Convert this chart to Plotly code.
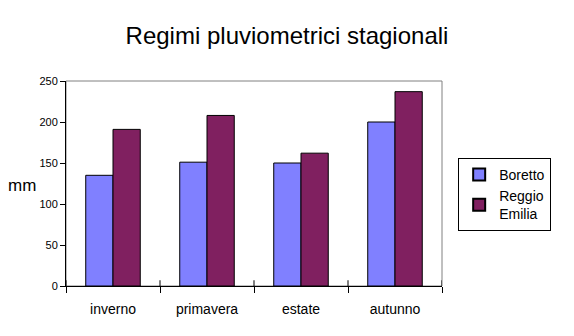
import plotly.graph_objects as go

categories = ["inverno", "primavera", "estate", "autunno"]
boretto = [135, 151, 150, 200]
reggio = [191, 208, 162, 237]
series_names = ["Boretto", "Reggio<br>Emilia"]
y_ticks = [0, 50, 100, 150, 200, 250]

fig = go.Figure()
fig.add_trace(go.Bar(x=categories, y=boretto, name=series_names[0],
                     marker=dict(color="#8080FF", line=dict(color="black", width=1))))
fig.add_trace(go.Bar(x=categories, y=reggio, name=series_names[1],
                     marker=dict(color="#802060", line=dict(color="black", width=1))))

# upward halves of the crossing category-boundary ticks
shapes = [dict(type="rect", xref="paper", yref="paper", x0=0, x1=1, y0=0, y1=1,
               line=dict(color="#808080", width=1), layer="below")]
for i in range(len(categories) + 1):
    shapes.append(dict(type="line", xref="x", yref="y", x0=i - 0.5, x1=i - 0.5,
                       y0=0, y1=7, line=dict(color="black", width=1)))

fig.update_layout(
    width=574, height=336,
    margin=dict(l=66, r=132, t=81, b=50),
    paper_bgcolor="white", plot_bgcolor="white",
    font=dict(family="Liberation Sans, Arial", color="black", size=12),
    title=dict(text="Regimi pluviometrici stagionali", x=0.5, xref="container", xanchor="center",
               y=0.895, yref="container", yanchor="middle",
               font=dict(size=24, color="black")),
    barmode="group", bargap=0.42, bargroupgap=0,
    showlegend=True,
    legend=dict(x=1.043, y=0.625, xanchor="left", yanchor="top",
                bordercolor="black", borderwidth=1, bgcolor="white",
                font=dict(size=14), itemsizing="constant", tracegroupgap=12,
                itemwidth=30, entrywidth=80),
    shapes=shapes,
)
fig.add_annotation(text="mm", xref="paper", yref="paper", x=-0.117, y=0.49,
                   xanchor="center", yanchor="middle", showarrow=False,
                   font=dict(size=17, color="black"))
fig.update_xaxes(showline=True, linecolor="black", linewidth=1, ticks="outside",
                 tickson="boundaries", ticklen=6, tickcolor="black",
                 tickfont=dict(size=14), showgrid=False, mirror=False,
                 ticklabelstandoff=10, range=[-0.5, len(categories) - 0.5])
fig.update_yaxes(range=[0, 250], tickvals=y_ticks, showline=True, linecolor="black",
                 linewidth=1, ticks="outside", ticklen=5, tickcolor="black",
                 tickfont=dict(size=11), showgrid=False, zeroline=False)
fig.write_html("out.html")
